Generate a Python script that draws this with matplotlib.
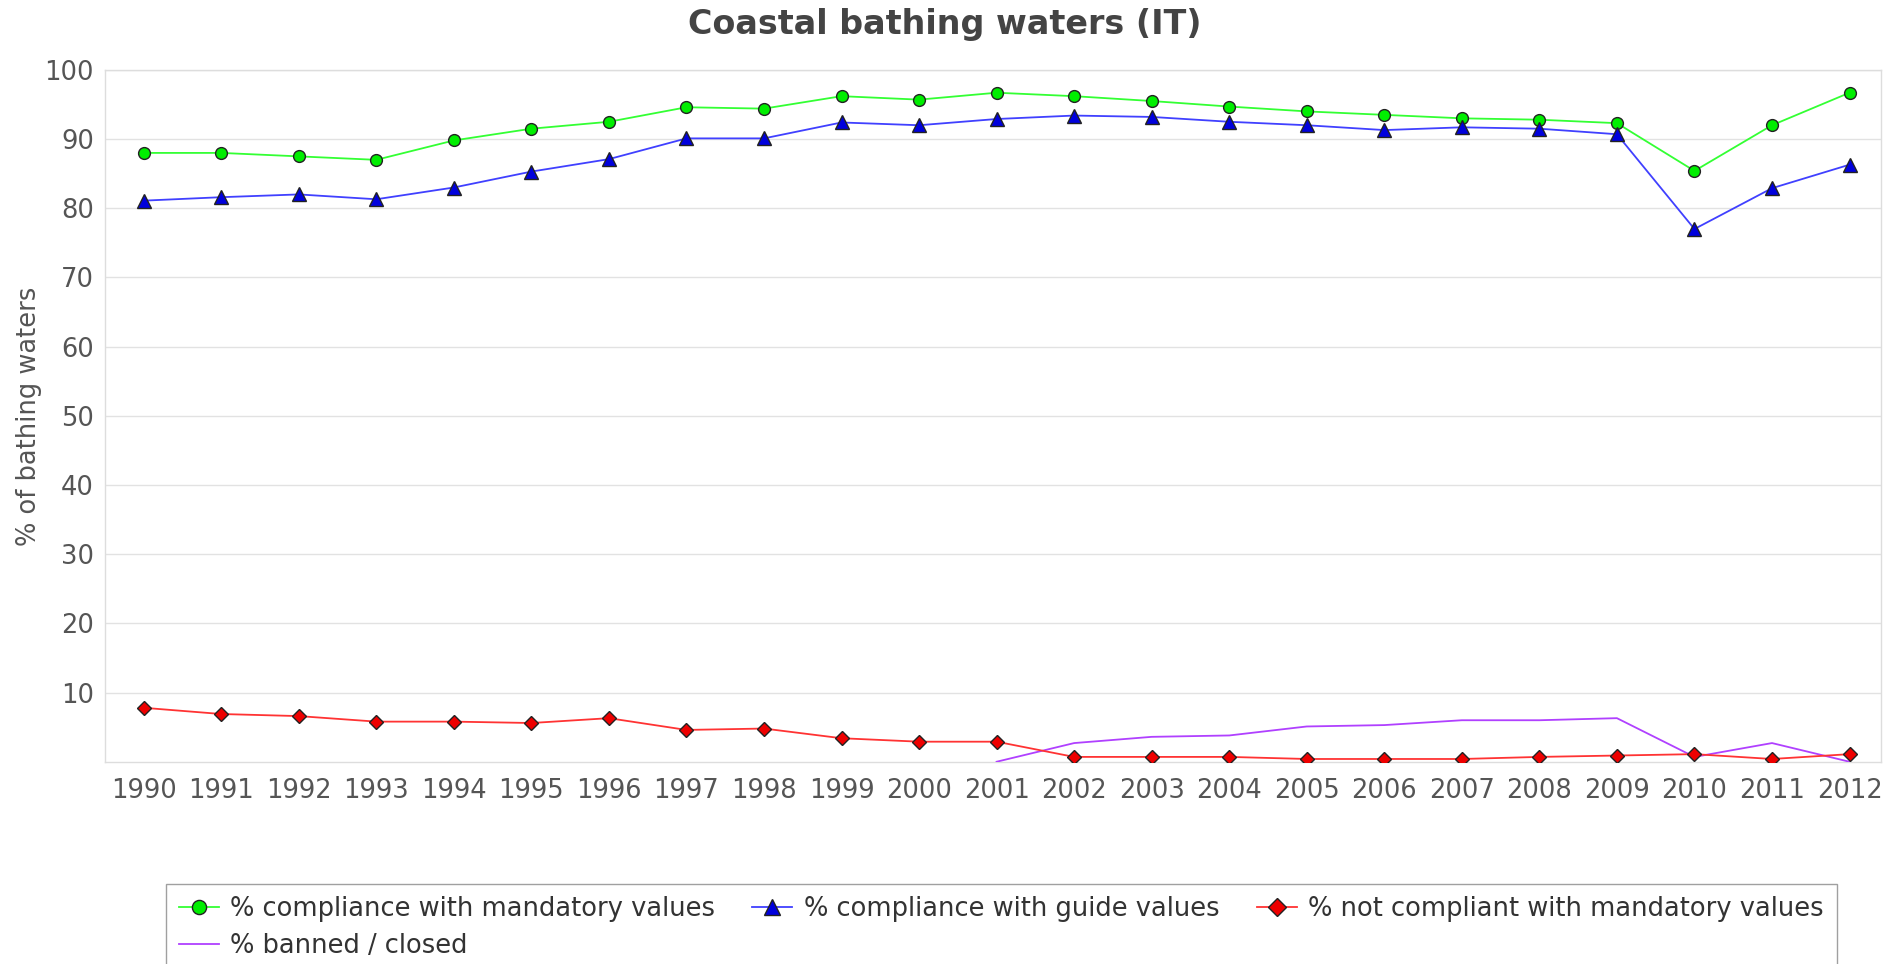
import numpy as np
import matplotlib.pyplot as plt

years = [str(y) for y in range(1990, 2013)]

mandatory = [88.0, 88.0, 87.5, 87.0, 89.8, 91.5, 92.5, 94.6, 94.4, 96.2, 95.7, 96.7,
             96.2, 95.5, 94.7, 94.0, 93.5, 93.0, 92.8, 92.3, 85.4, 92.0, 96.7]
guide = [81.1, 81.6, 82.0, 81.3, 83.0, 85.3, 87.1, 90.1, 90.1, 92.4, 92.0, 92.9,
         93.4, 93.2, 92.5, 92.0, 91.3, 91.7, 91.5, 90.7, 77.0, 82.9, 86.3]
not_compliant = [7.8, 6.9, 6.6, 5.8, 5.8, 5.6, 6.3, 4.6, 4.8, 3.4, 2.9, 2.9,
                 0.7, 0.7, 0.7, 0.4, 0.4, 0.4, 0.7, 0.9, 1.1, 0.4, 1.1]
banned = [np.nan] * 11 + [0.0, 2.7, 3.6, 3.8, 5.1, 5.3, 6.0, 6.0, 6.3, 0.7, 2.7, 0.0]

plt.rcParams['font.family'] = ['DejaVu Sans']
text_col = '#555555'
fs = 18.5

fig = plt.figure(figsize=(18.9, 9.64), dpi=100)
ax = fig.add_axes([0.0555, 0.2098, 0.9395, 0.7177])

x = np.arange(len(years))
h1, = ax.plot(x, mandatory, color='#33ff33', lw=1.3, marker='o', markersize=8.5,
              markerfacecolor='#00ee00', markeredgecolor='#222222', markeredgewidth=1,
              label='% compliance with mandatory values', zorder=4)
h2, = ax.plot(x, guide, color='#4040ff', lw=1.3, marker='^', markersize=10,
              markerfacecolor='#0000dd', markeredgecolor='#222222', markeredgewidth=1,
              label='% compliance with guide values', zorder=4)
h3, = ax.plot(x, not_compliant, color='#ff3333', lw=1.3, marker='D', markersize=7.5,
              markerfacecolor='#ee0000', markeredgecolor='#222222', markeredgewidth=1,
              label='% not compliant with mandatory values', zorder=4)
h4, = ax.plot(x, banned, color='#b040ff', lw=1.3,
              label='% banned / closed', zorder=3)

ax.set_xlim(-0.5, len(years) - 0.6)
ax.set_ylim(0, 100)
ax.set_xticks(x)
ax.set_xticklabels(years)
ax.set_yticks(range(10, 101, 10))
ax.tick_params(axis='both', length=0, labelsize=fs, colors=text_col)
ax.tick_params(axis='x', pad=12)
ax.tick_params(axis='y', pad=8)
ax.grid(axis='y', color='#e2e2e2', lw=1)
ax.set_axisbelow(True)
for s in ax.spines.values():
    s.set_color('#dddddd')
    s.set_linewidth(1)

ax.set_ylabel('% of bathing waters', fontsize=fs, color=text_col, labelpad=2)
fig.suptitle('Coastal bathing waters (IT)', fontsize=24, fontweight='bold',
             color='#444444', y=0.992)

leg = fig.legend([h1, h4, h2, h3],
                 [h1.get_label(), h4.get_label(), h2.get_label(), h3.get_label()],
                 ncol=3, loc='upper left', bbox_to_anchor=(0.0878, 0.0834),
                 fontsize=fs, frameon=True, fancybox=False, edgecolor='#888888',
                 handlelength=1.55, handletextpad=0.45, columnspacing=1.45,
                 labelspacing=0.4, borderpad=0.5, borderaxespad=0, markerscale=1.2)
leg.get_frame().set_linewidth(1)
for t in leg.get_texts():
    t.set_color('#333333')

fig.savefig('out.png', dpi=100)
